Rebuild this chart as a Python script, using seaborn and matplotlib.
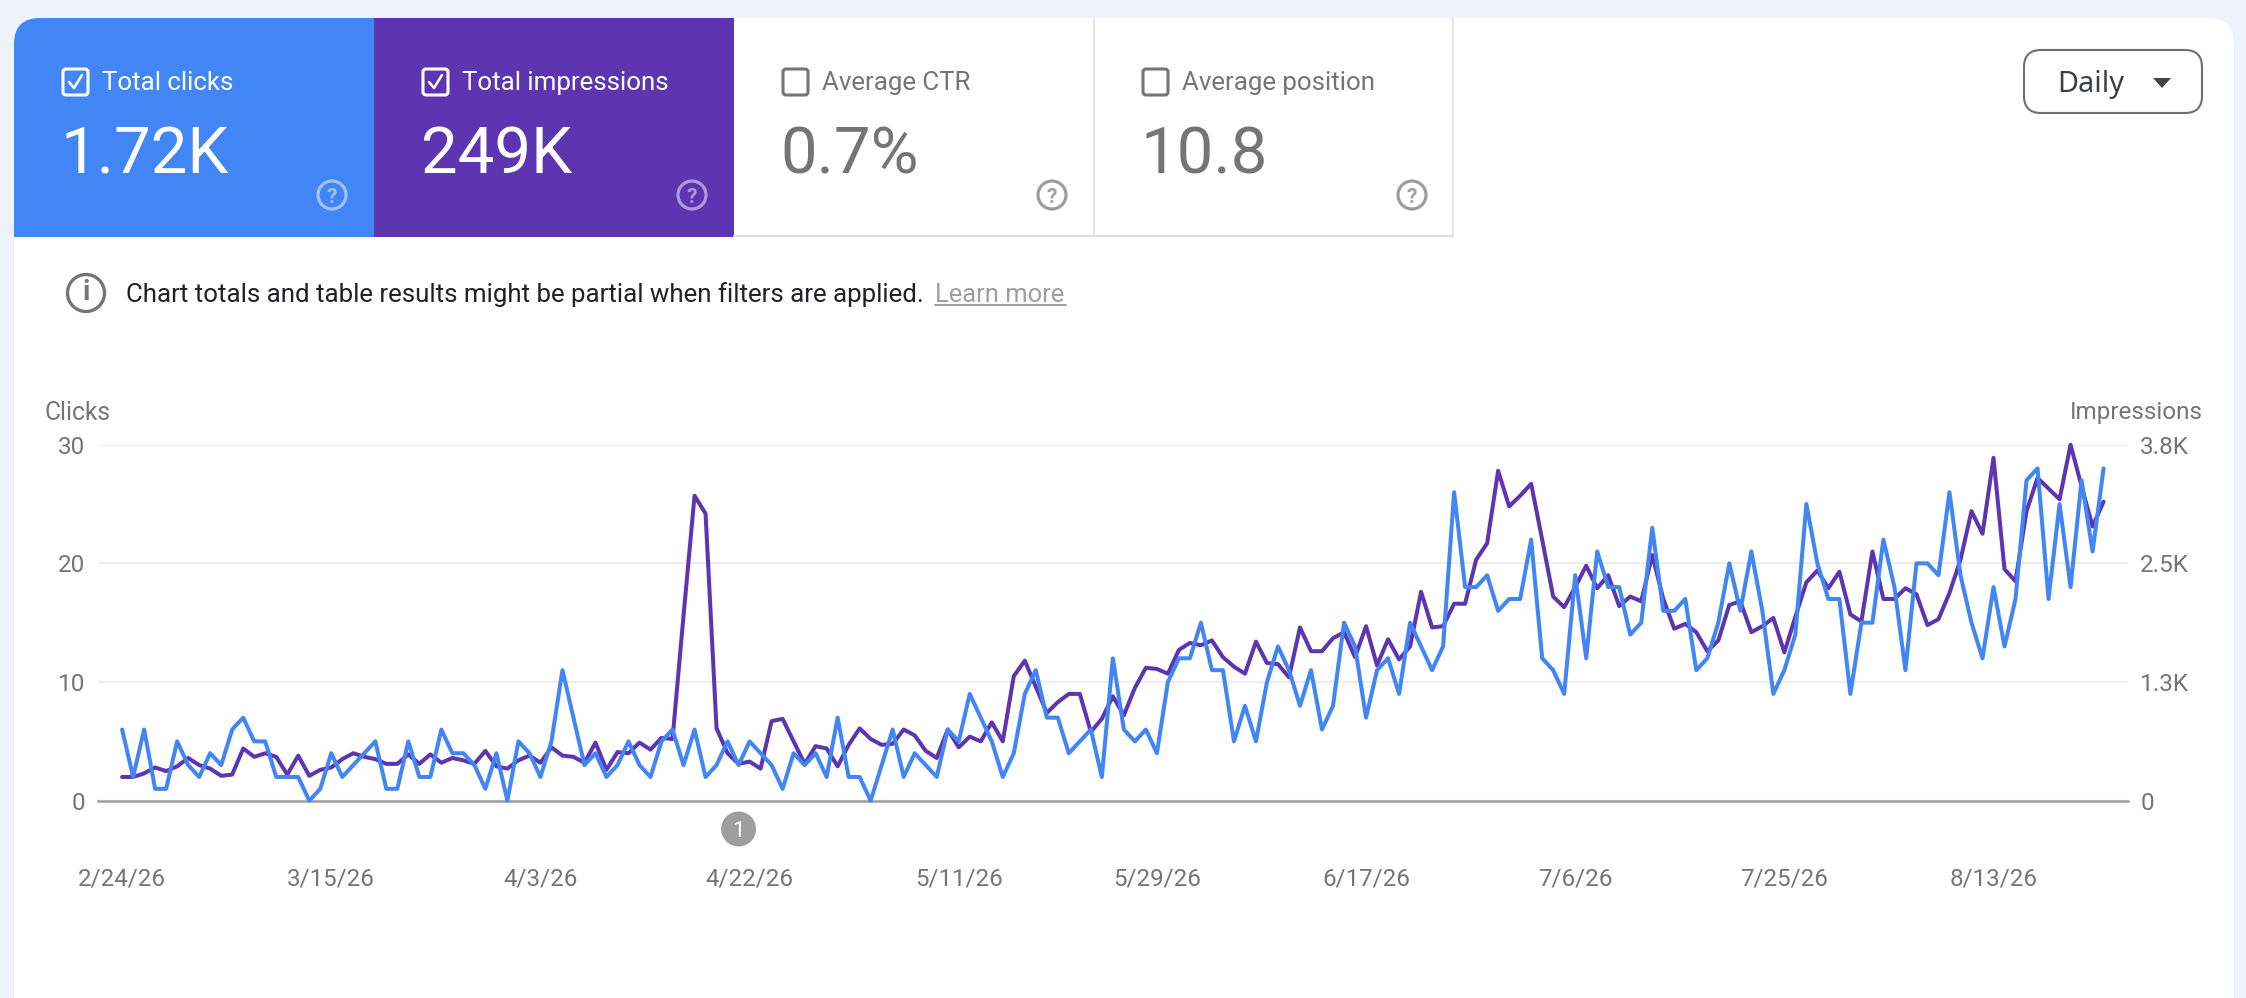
import pandas as pd
import matplotlib
matplotlib.use("Agg")
import matplotlib.pyplot as plt
from matplotlib.patches import FancyBboxPatch, Rectangle, Circle, Polygon
import seaborn as sns

clicks = [6, 2, 6, 1, 1, 5, 3, 2, 4, 3, 6, 7, 5, 5, 2, 2, 2, 0, 1, 4,
          2, 3, 4, 5, 1, 1, 5, 2, 2, 6, 4, 4, 3, 1, 4, 0, 5, 4, 2, 5,
          11, 7, 3, 4, 2, 3, 5, 3, 2, 5, 6, 3, 6, 2, 3, 5, 3, 5, 4, 3,
          1, 4, 3, 4, 2, 7, 2, 2, 0, 3, 6, 2, 4, 3, 2, 6, 5, 9, 7, 5,
          2, 4, 9, 11, 7, 7, 4, 5, 6, 2, 12, 6, 5, 6, 4, 10, 12, 12, 15, 11,
          11, 5, 8, 5, 10, 13, 11, 8, 11, 6, 8, 15, 13, 7, 11, 12, 9, 15, 13, 11,
          13, 26, 18, 18, 19, 16, 17, 17, 22, 12, 11, 9, 19, 12, 21, 18, 18, 14, 15, 23,
          16, 16, 17, 11, 12, 15, 20, 16, 21, 16, 9, 11, 14, 25, 20, 17, 17, 9, 15, 15,
          22, 18, 11, 20, 20, 19, 26, 19, 15, 12, 18, 13, 17, 27, 28, 17, 25, 18, 27, 21,
          28]

impressions = [250, 250, 288, 350, 312, 362, 450, 375, 338, 262, 275, 550, 462, 500, 462, 275, 475, 262, 325, 350,
               438, 500, 462, 438, 388, 388, 488, 388, 488, 400, 450, 425, 388, 525, 362, 338, 425, 475, 400, 562,
               475, 462, 400, 612, 325, 512, 500, 612, 538, 662, 650, 1950, 3212, 3025, 762, 500, 388, 412, 338, 838,
               862, 625, 388, 575, 550, 362, 588, 762, 650, 588, 600, 750, 688, 525, 450, 750, 562, 675, 625, 825,
               625, 1312, 1475, 1200, 925, 1038, 1125, 1125, 725, 862, 1100, 900, 1188, 1400, 1388, 1338, 1588, 1662, 1638, 1688,
               1512, 1412, 1338, 1675, 1450, 1438, 1300, 1825, 1575, 1575, 1712, 1775, 1512, 1838, 1425, 1700, 1488, 1625, 2200, 1825,
               1838, 2075, 2075, 2538, 2712, 3475, 3100, 3212, 3338, 2750, 2150, 2038, 2250, 2475, 2238, 2375, 2050, 2150, 2100, 2588,
               2125, 1812, 1862, 1775, 1575, 1688, 2062, 2100, 1775, 1838, 1925, 1562, 1938, 2300, 2425, 2238, 2412, 1962, 1888, 2625,
               2125, 2125, 2238, 2175, 1850, 1912, 2188, 2538, 3050, 2812, 3612, 2438, 2312, 3050, 3400, 3288, 3175, 3750, 3312, 2888,
               3150]

date_ticks = ["2026-02-24", "2026-03-15", "2026-04-03", "2026-04-22", "2026-05-11",
              "2026-05-29", "2026-06-17", "2026-07-06", "2026-07-25", "2026-08-13"]
date_labels = ["2/24/26", "3/15/26", "4/3/26", "4/22/26", "5/11/26",
               "5/29/26", "6/17/26", "7/6/26", "7/25/26", "8/13/26"]
click_ticks = [0, 10, 20, 30]
impression_ticks = [0, 1250, 2500, 3750]
impression_labels = ["0", "1.3K", "2.5K", "3.8K"]

card_titles = ["Total clicks", "Total impressions", "Average CTR", "Average position"]
card_values = ["1.72K", "249K", "0.7%", "10.8"]

BLUE = "#4285F4"
PURPLE = "#5E35B1"
GREY = "#757575"
PAGE = "#EEF2FB"
W, H = 2246, 998


def draw_card(ui, i, panel):
    # the four metric tiles along the top of the panel
    x0 = 14 + 360 * i
    selected = i < 2
    if selected:
        box = Rectangle((x0, 18), 360, 219, color=[BLUE, PURPLE][i], lw=0)
        ui.add_patch(box)
        box.set_clip_path(panel)
    fg = "white" if selected else GREY
    ui.add_patch(FancyBboxPatch((x0 + 49, 69), 25, 26, boxstyle="round,pad=0,rounding_size=3",
                                fc="none", ec=fg, lw=2.2))
    if selected:
        ui.plot([x0 + 55, x0 + 60, x0 + 68], [82, 88, 75], color="white", lw=1.8)
    ui.text(x0 + 88, 83, card_titles[i], color=fg, fontsize=18.6, va="center", ha="left")
    ui.text(x0 + 46.5, 155, card_values[i], color=fg, fontsize=47, va="center", ha="left")
    ring = "#ffffff" if selected else "#9E9E9E"
    alpha = 0.5 if selected else 1
    ui.add_patch(Circle((x0 + 318, 195), 14, fc="none", ec=ring, lw=2.3, alpha=alpha))
    ui.text(x0 + 318, 195, "?", color=ring, alpha=alpha, fontsize=15, ha="center",
            va="center_baseline", fontweight="bold")


def draw_ui(ui):
    ui.set_xlim(0, W)
    ui.set_ylim(H, 0)
    ui.axis("off")
    panel = FancyBboxPatch((14, 18), 2220, 1100, boxstyle="round,pad=0,rounding_size=26", fc="white", lw=0)
    ui.add_patch(panel)

    for i in range(4):
        draw_card(ui, i, panel)

    # borders of the two white tiles
    ui.plot([734, 1453], [236, 236], color="#E0E0E0", lw=1.5)
    ui.plot([1094, 1094], [18, 236], color="#E0E0E0", lw=1.2)
    ui.plot([1453, 1453], [18, 236], color="#E0E0E0", lw=1.2)

    # filter note
    ui.add_patch(Circle((86, 293), 18.5, fc="none", ec=GREY, lw=2.4))
    ui.text(86, 293, "i", color=GREY, fontsize=20, ha="center", va="center", fontweight="bold")
    ui.text(126, 295, "Chart totals and table results might be partial when filters are applied.",
            color="#202124", fontsize=18.65, va="center", ha="left")
    ui.text(935, 295, "Learn more", color="#9E9E9E", fontsize=18.4, va="center", ha="left")
    ui.plot([935, 1066], [305, 305], color="#9E9E9E", lw=1.4)

    # daily dropdown
    ui.add_patch(FancyBboxPatch((2024, 50), 178, 63, boxstyle="round,pad=0,rounding_size=17",
                                fc="white", ec="#6F6F6F", lw=1.5))
    ui.text(2057, 84, "Daily", color="#3C4043", fontsize=20.8, family="Noto Sans", va="center", ha="left")
    ui.add_patch(Polygon([(2153, 78), (2171, 78), (2162, 88)], color="#444444", lw=0))

    # axis titles and annotation badge
    ui.text(45, 413, "Clicks", color=GREY, fontsize=17.7, va="center", ha="left")
    ui.text(2203, 413, "Impressions", color=GREY, fontsize=17.5, va="center", ha="right")
    ui.add_patch(Circle((738.6, 829), 17.5, fc="#9E9E9E", lw=0))
    ui.text(738.6, 829, "1", color="white", fontsize=16, ha="center", va="center_baseline")


def main():
    sns.set_theme(style="white")
    plt.rcParams["font.family"] = ["Roboto", "DejaVu Sans"]

    start = pd.Timestamp("2026-02-24")
    df = pd.DataFrame({
        "date": pd.date_range(start, periods=len(clicks), freq="D"),
        "clicks": clicks,
        "impressions": impressions,
    })

    fig = plt.figure(figsize=(W / 100, H / 100), dpi=100, facecolor=PAGE)
    ui = fig.add_axes([0, 0, 1, 1], zorder=0)
    draw_ui(ui)

    pos = [97.9 / W, 1 - 800.7 / H, 2029.9 / W, 356 / H]
    ax = fig.add_axes(pos, zorder=3)
    ax2 = fig.add_axes(pos, zorder=2)
    ax.patch.set_visible(False)
    ax2.patch.set_visible(False)

    sns.lineplot(data=df, x="date", y="impressions", ax=ax2, color=PURPLE, linewidth=2.9,
                 estimator=None, clip_on=False)
    sns.lineplot(data=df, x="date", y="clicks", ax=ax, color=BLUE, linewidth=2.9,
                 estimator=None, clip_on=False)

    xlim = (start - pd.Timedelta(days=2.2), start + pd.Timedelta(days=182.2))
    for a in (ax, ax2):
        a.set_xlim(xlim)
        a.set_xlabel("")
        a.set_ylabel("")
        for s in a.spines.values():
            s.set_visible(False)

    ax.set_ylim(0, 30)
    ax.set_yticks(click_ticks)
    ax.tick_params(axis="y", length=0, pad=9, labelsize=17.5, labelcolor=GREY)
    ax.set_xticks(pd.to_datetime(date_ticks))
    ax.set_xticklabels(date_labels)
    ax.tick_params(axis="x", length=0, pad=48, labelsize=17.4, labelcolor=GREY)

    ax2.set_ylim(0, 3750)
    ax2.yaxis.tick_right()
    ax2.set_yticks(impression_ticks)
    ax2.set_yticklabels(impression_labels)
    ax2.tick_params(axis="y", length=0, pad=9, labelsize=17.5, labelcolor=GREY)
    ax2.set_xticks([])
    ax2.grid(axis="y", color="#EEEEEE", lw=1.7)
    ax2.spines["bottom"].set_visible(True)
    ax2.spines["bottom"].set_color("#9E9E9E")
    ax2.spines["bottom"].set_linewidth(1.8)

    fig.savefig("out.png", dpi=100, facecolor=fig.get_facecolor())


if __name__ == "__main__":
    main()
